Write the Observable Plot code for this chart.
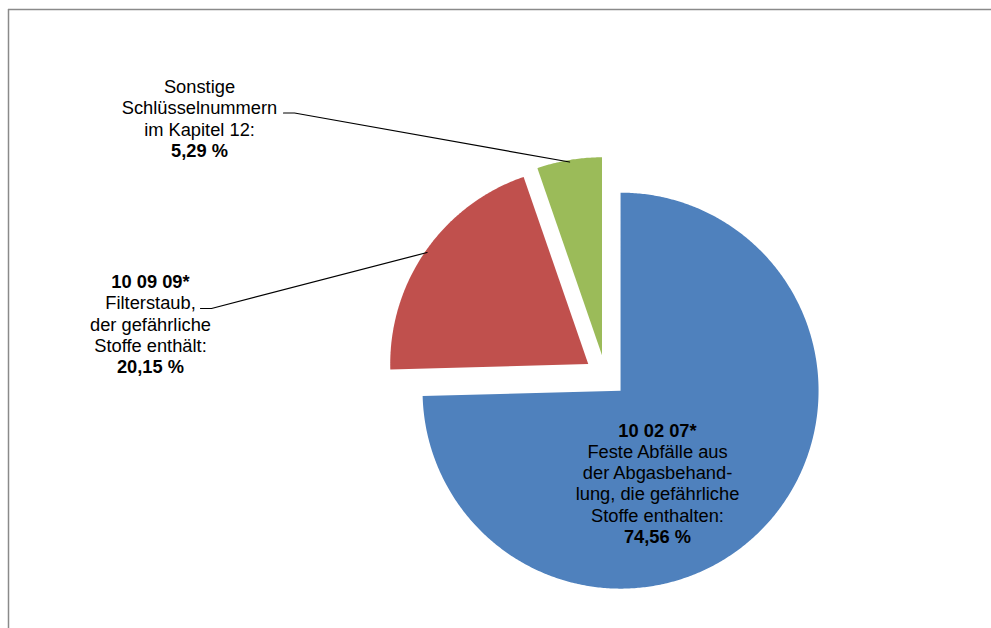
<!DOCTYPE html>
<html><head><meta charset="utf-8">
<script src="https://cdn.jsdelivr.net/npm/d3@7"></script>
<script src="https://cdn.jsdelivr.net/npm/@observablehq/plot@0.6"></script>
<style>html,body{margin:0;padding:0;background:#fff;} svg{display:block;}</style>
</head><body><div id="chart"></div>
<script>
// ---- data ----
const categories = ["10 02 07*", "10 09 09*", "Sonstige"];
const shares = [74.56, 20.15, 5.29];
const headLines = ["10 02 07*", "10 09 09*", ""];
const bodyLines = [
  ["Feste Abfälle aus", "der Abgasbehand-", "lung, die gefährliche", "Stoffe enthalten:"],
  ["Filterstaub,", "der gefährliche", "Stoffe enthält:"],
  ["Sonstige", "Schlüsselnummern", "im Kapitel 12:"]
];
const sliceColors = ["#4F81BD", "#C0504D", "#9BBB59"];

// ---- layout ----
const W = 991, H = 628;
const cx = 605, cy = 375.5, R = 198, explode = 21;
const lineH = 21.3, fs = 18.3;
const labelPos = [{x: 657, y: 436}, {x: 150, y: 287.5}, {x: 199, y: 92.5}]; // first baseline
const leaderFrom = [null, {x: 200, y: 308}, {x: 283, y: 112.5}];
const stub = 11;

const fmt = v => v.toFixed(2).replace(".", ",") + " %";

const pie = d3.pie().sort(null).value(d => d)(shares);
const slices = pie.map((p, i) => {
  const mid = (p.startAngle + p.endAngle) / 2;
  return {i, cat: categories[i], a0: p.startAngle, a1: p.endAngle, mid,
    ox: cx + explode * Math.sin(mid), oy: cy - explode * Math.cos(mid)};
});
const pts = [];
for (const s of slices) {
  pts.push({cat: s.cat, x: s.ox, y: s.oy});
  const n = Math.max(2, Math.ceil((s.a1 - s.a0) / (Math.PI / 360)));
  for (let k = 0; k <= n; k++) {
    const a = s.a0 + (s.a1 - s.a0) * k / n;
    pts.push({cat: s.cat, x: s.ox + R * Math.sin(a), y: s.oy - R * Math.cos(a)});
  }
}

const textRows = [];
categories.forEach((c, i) => {
  const lines = [];
  if (headLines[i]) lines.push({t: headLines[i], b: true});
  bodyLines[i].forEach(t => lines.push({t, b: false}));
  lines.push({t: fmt(shares[i]), b: true});
  lines.forEach((l, k) => textRows.push({text: l.t, bold: l.b, x: labelPos[i].x, y: labelPos[i].y + k * lineH - 0.32 * fs}));
});

const leaders = [];
slices.forEach((s, i) => {
  const f = leaderFrom[i];
  if (!f) return;
  leaders.push({cat: s.cat, x: f.x, y: f.y});
  leaders.push({cat: s.cat, x: f.x + stub, y: f.y});
  leaders.push({cat: s.cat, x: s.ox + (R - 2) * Math.sin(s.mid), y: s.oy - (R - 2) * Math.cos(s.mid)});
});

const chart = Plot.plot({
  width: W, height: H,
  margin: 0,
  style: {fontFamily: "'Liberation Sans', Arial, sans-serif", fontSize: fs + "px", background: "#fff", color: "#000"},
  x: {domain: [0, W], range: [0, W], axis: null},
  y: {domain: [0, H], range: [0, H], axis: null},
  color: {domain: categories, range: sliceColors},
  marks: [
    Plot.ruleY([{y: 9, x1: 8, x2: W}], {y: "y", x1: "x1", x2: "x2", stroke: "#8a8a8a", strokeWidth: 1.5}),
    Plot.ruleX([{x: 8, y1: 9, y2: H}], {x: "x", y1: "y1", y2: "y2", stroke: "#8a8a8a", strokeWidth: 1.5}),
    Plot.line(pts, {x: "x", y: "y", z: "cat", fill: "cat", stroke: "none", curve: "linear"}),
    Plot.line(leaders, {x: "x", y: "y", z: "cat", stroke: "#000", strokeWidth: 1.2, curve: "linear"}),
    Plot.text(textRows.filter(d => !d.bold), {x: "x", y: "y", text: "text", fontSize: fs, fill: "#000", textAnchor: "middle"}),
    Plot.text(textRows.filter(d => d.bold), {x: "x", y: "y", text: "text", fontSize: fs, fontWeight: "bold", fill: "#000", textAnchor: "middle"})
  ]
});
document.getElementById("chart").appendChild(chart);
</script>
</body></html>
